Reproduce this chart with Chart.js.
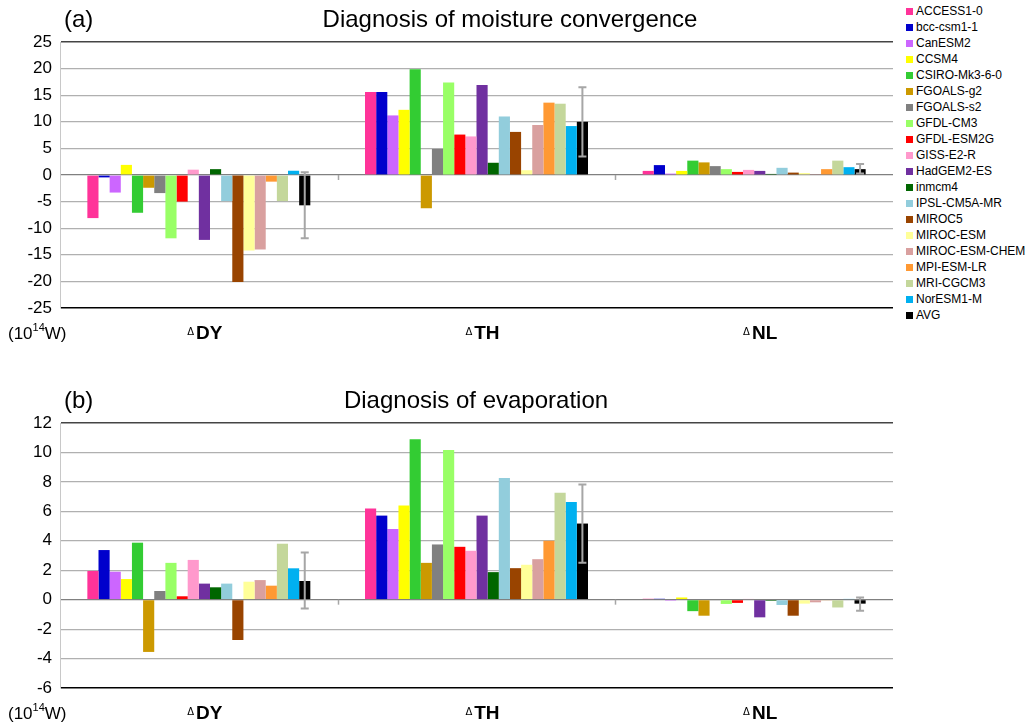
<!DOCTYPE html>
<html lang="en">
<head>
<meta charset="UTF-8">
<title>Diagnosis of moisture convergence and evaporation</title>
<style>
  body { margin: 0; background: #fff; font-family: "Liberation Sans", Arial, sans-serif; }
  #wrap { position: relative; width: 1027px; height: 724px; }
  #chartA { position: absolute; left: 0; top: 0; }
  #chartB { position: absolute; left: 0; top: 360px; }
  #legend { position: absolute; left: 906px; top: 3px; font-size: 12px; color: #000; }
  #legend div { height: 16px; line-height: 16px; white-space: nowrap; }
  #legend span { display: inline-block; width: 7px; height: 7px; margin-right: 3px; vertical-align: 0px; }
</style>
</head>
<body>
<div id="wrap">
  <canvas id="chartA" width="900" height="345"></canvas>
  <canvas id="chartB" width="900" height="364"></canvas>
  <div id="legend"></div>
</div>
<script src="https://cdn.jsdelivr.net/npm/chart.js@4.4.1/dist/chart.umd.min.js"></script>
<script>
// categories (drawn as small delta + bold name)
var categories = ["DY", "TH", "NL"];

var models = ["ACCESS1-0", "bcc-csm1-1", "CanESM2", "CCSM4", "CSIRO-Mk3-6-0", "FGOALS-g2",
  "FGOALS-s2", "GFDL-CM3", "GFDL-ESM2G", "GISS-E2-R", "HadGEM2-ES", "inmcm4", "IPSL-CM5A-MR",
  "MIROC5", "MIROC-ESM", "MIROC-ESM-CHEM", "MPI-ESM-LR", "MRI-CGCM3", "NorESM1-M", "AVG"];

var colors = ["#ff3399", "#0000cc", "#cc66ff", "#ffff00", "#33cc33", "#cc9900",
  "#808080", "#99ff66", "#ff0000", "#ff99cc", "#7030a0", "#006600", "#92cddc",
  "#994400", "#ffff99", "#d9a09f", "#ff9933", "#c4d79b", "#00b0f0", "#000000"];

// (a) moisture convergence, one value per model, per category
var convDY = [-8.1, -0.45, -3.3, 1.9, -7.1, -2.4, -3.4, -11.9, -5.0, 1.0,
  -12.2, 1.1, -4.9, -20.1, -14.2, -14.0, -1.25, -4.9, 0.8, -5.7];
var convTH = [15.6, 15.6, 11.2, 12.25, 19.9, -6.25, 4.9, 17.4, 7.6, 7.25,
  16.9, 2.3, 11.0, 8.1, 0.9, 9.4, 13.6, 13.4, 9.2, 10.0];
var convNL = [0.77, 1.86, 0.26, 0.77, 2.7, 2.37, 1.67, 1.1, 0.58, 0.96,
  0.77, 0.2, 1.35, 0.45, 0.38, 0.05, 1.1, 2.7, 1.47, 1.1];
var convAvgErr = [[-11.9, 0.5], [3.5, 16.5], [0.3, 2.05]];

// (b) evaporation
var evapDY = [1.95, 3.37, 1.9, 1.4, 3.87, -3.55, 0.59, 2.5, 0.23, 2.7,
  1.09, 0.84, 1.09, -2.74, 1.22, 1.33, 0.95, 3.8, 2.13, 1.27];
var evapTH = [6.2, 5.71, 4.8, 6.39, 10.9, 2.5, 3.75, 10.16, 3.59, 3.32,
  5.71, 1.87, 8.26, 2.14, 2.37, 2.75, 4.0, 7.27, 6.64, 5.17];
var evapNL = [0.06, 0.06, -0.07, 0.15, -0.78, -1.09, -0.05, -0.29, -0.22, 0.05,
  -1.2, -0.08, -0.36, -1.09, -0.27, -0.18, -0.05, -0.53, 0.05, -0.27];
var evapAvgErr = [[-0.6, 3.2], [2.5, 7.83], [-0.75, 0.15]];

var yTicksA = { min: -25, max: 25, step: 5 };
var yTicksB = { min: -6, max: 12, step: 2 };

// legend
var legendHtml = "";
models.forEach(function (m, i) {
  legendHtml += '<div><span style="background:' + colors[i] + '"></span>' + m + '</div>';
});
document.getElementById("legend").innerHTML = legendHtml;

function makeDatasets(dy, th, nl) {
  return models.map(function (m, i) {
    return {
      label: m,
      data: [dy[i], th[i], nl[i]],
      backgroundColor: colors[i],
      borderWidth: 0,
      categoryPercentage: 0.803,
      barPercentage: 1.0
    };
  });
}

function decor(letter, title, titleX, errs) {
  return {
    id: "decor",
    afterDatasetsDraw: function (chart) {
      var ctx = chart.ctx;
      var xs = chart.scales.x, ys = chart.scales.y;
      ctx.save();
      // error bars on the AVG bars
      var meta = chart.getDatasetMeta(models.length - 1);
      ctx.strokeStyle = "#a6a6a6";
      ctx.lineWidth = 2;
      errs.forEach(function (e, i) {
        var bx = meta.data[i].x;
        var y0 = ys.getPixelForValue(e[0]), y1 = ys.getPixelForValue(e[1]);
        ctx.beginPath();
        ctx.moveTo(bx, y0); ctx.lineTo(bx, y1);
        ctx.moveTo(bx - 4, y0); ctx.lineTo(bx + 4, y0);
        ctx.moveTo(bx - 4, y1); ctx.lineTo(bx + 4, y1);
        ctx.stroke();
      });
      // small category ticks on the zero line
      var zy = ys.getPixelForValue(0);
      var cw = (xs.right - xs.left) / categories.length;
      ctx.lineWidth = 1.5;
      for (var k = 1; k < categories.length; k++) {
        var tx = Math.round(xs.left + cw * k) + 0.5;
        ctx.beginPath(); ctx.moveTo(tx, zy); ctx.lineTo(tx, zy + 5); ctx.stroke();
      }
      ctx.restore();
    },
    afterDraw: function (chart) {
      var ctx = chart.ctx, area = chart.chartArea, xs = chart.scales.x;
      ctx.save();
      ctx.fillStyle = "#000";
      ctx.textBaseline = "middle";
      // panel letter and title
      ctx.font = "24px 'Liberation Sans', Arial, sans-serif";
      ctx.textAlign = "left";
      ctx.fillText(letter, 64, area.top - 22);
      ctx.textAlign = "center";
      ctx.fillText(title, titleX, area.top - 22);
      // category labels
      var ly = area.bottom + 26;
      categories.forEach(function (c, i) {
        var cx = xs.getPixelForValue(i) + 6;
        ctx.font = "bold 19px 'Liberation Sans', Arial, sans-serif";
        var w2 = ctx.measureText(c).width;
        ctx.font = "10px 'DejaVu Sans', sans-serif";
        var w1 = ctx.measureText("\u0394").width;
        var x0 = cx - (w1 + 2 + w2) / 2;
        ctx.textAlign = "left";
        ctx.fillText("\u0394", x0, ly - 2);
        ctx.font = "bold 19px 'Liberation Sans', Arial, sans-serif";
        ctx.fillText(c, x0 + w1 + 2, ly);
      });
      // unit label (10^14 W)
      ctx.textAlign = "left";
      ctx.font = "17px 'Liberation Sans', Arial, sans-serif";
      var ux = 8;
      ctx.fillText("(10", ux, ly);
      ux += ctx.measureText("(10").width;
      ctx.font = "11px 'Liberation Sans', Arial, sans-serif";
      ctx.fillText("14", ux, ly - 6);
      ux += ctx.measureText("14").width;
      ctx.font = "17px 'Liberation Sans', Arial, sans-serif";
      ctx.fillText("W)", ux, ly);
      ctx.restore();
    }
  };
}

function makeChart(id, datasets, ticks, padTop, padBottom, plugin) {
  return new Chart(document.getElementById(id), {
    type: "bar",
    data: { labels: categories, datasets: datasets },
    options: {
      responsive: false,
      animation: false,
      layout: { padding: { top: padTop, bottom: padBottom, left: 0, right: 7 } },
      plugins: { legend: { display: false }, title: { display: false }, tooltip: { enabled: false } },
      scales: {
        x: { display: false },
        y: {
          min: ticks.min, max: ticks.max,
          afterFit: function (s) { s.width = 60; },
          ticks: {
            stepSize: ticks.step, padding: 8, color: "#000",
            font: { size: 17, family: "'Liberation Sans', Arial, sans-serif" }
          },
          border: { display: true, color: "#c8c8c8", width: 1 },
          grid: {
            drawTicks: false,
            color: function (c) {
              if (c.tick.value === ticks.max) return "#444";
              if (c.tick.value === ticks.min) return "#000";
              if (c.tick.value === 0) return "#808080";
              return "#b0b0b0";
            },
            lineWidth: function (c) {
              return (c.tick.value === ticks.max || c.tick.value === ticks.min) ? 1.5 : 1.2;
            }
          }
        }
      }
    },
    plugins: [plugin]
  });
}

makeChart("chartA", makeDatasets(convDY, convTH, convNL), yTicksA, 42, 37,
  decor("(a)", "Diagnosis of moisture convergence", 510, convAvgErr));
makeChart("chartB", makeDatasets(evapDY, evapTH, evapNL), yTicksB, 63, 36,
  decor("(b)", "Diagnosis of evaporation", 476, evapAvgErr));
</script>
</body>
</html>
